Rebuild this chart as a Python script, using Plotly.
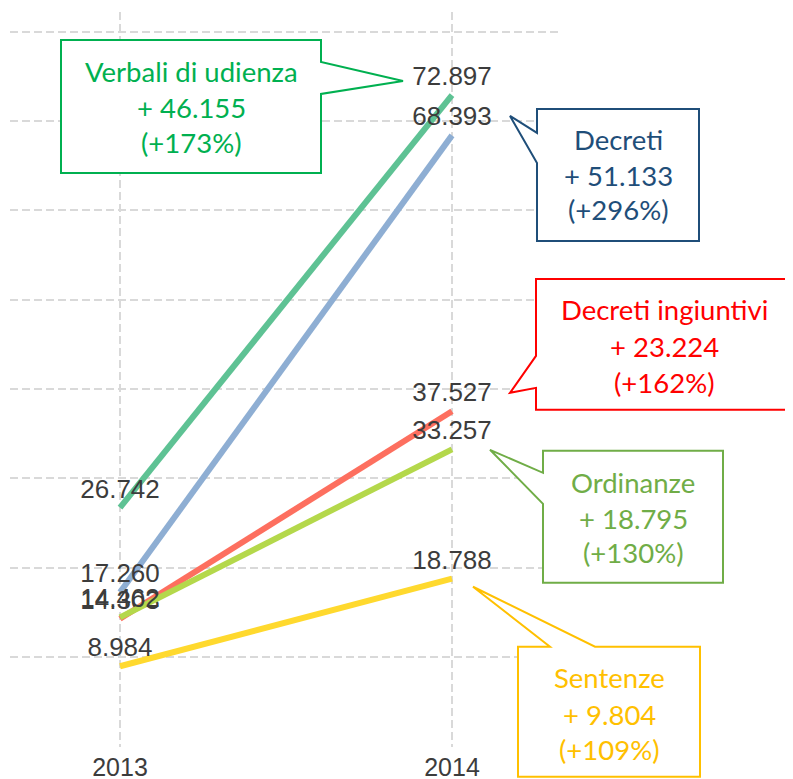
import plotly.graph_objects as go

# ---------------- data ----------------
years = [2013, 2014]
year_labels = ["2013", "2014"]
series_names = ["Verbali di udienza", "Decreti", "Decreti ingiuntivi", "Ordinanze", "Sentenze"]
verbali = [26742, 72897]
decreti = [17260, 68393]
ingiuntivi = [14303, 37527]
ordinanze = [14462, 33257]
sentenze = [8984, 18788]

line_colors = ["#5ec294", "#8eaed3", "#fd6f5f", "#b4d84b", "#ffd92e"]
box_colors = ["#00b050", "#1f4e79", "#ff0000", "#70ad47", "#ffc000"]

all_series = [verbali, decreti, ingiuntivi, ordinanze, sentenze]

# ---------------- geometry (pixels, reference coords) ----------------
OFF = 8  # default page body margin
W, H = 793 - OFF, 779 - OFF
PL, PR, PT, PB = 10, 562, 12, 747.3


def X(px):
    return (px - PL) / (PR - PL)


def Y(py):
    return (PB - py) / (PB - PT)


def it(n):
    return f"{n:,}".replace(",", ".")


fig = go.Figure()
for name, vals, col in zip(series_names, all_series, line_colors):
    fig.add_trace(go.Scatter(
        x=years, y=vals, mode="lines+markers+text", name=name,
        line=dict(color=col, width=6),
        marker=dict(size=4, color="rgba(0,0,0,0)"),
        text=[it(v) for v in vals],
        textposition="top center",
        textfont=dict(family="Liberation Sans, Arial, sans-serif", size=26, color="#3c3c3c"),
        cliponaxis=False, hoverinfo="skip",
    ))

# ---------------- callouts ----------------
callouts = [
    dict(box=(61, 40, 321, 173), kind="right", ptr=[(321, 62), (403, 81), (321, 94)],
         tx=191, ty=[72, 108, 143]),
    dict(box=(537, 109, 699, 241), kind="left", ptr=[(537, 163), (510, 116), (537, 133)],
         tx=618, ty=[140, 176, 210]),
    dict(box=(536, 279, 792, 410), kind="left", ptr=[(536, 388), (510, 393), (536, 356)],
         tx=664, ty=[310, 347, 383]),
    dict(box=(543, 451, 723, 583), kind="left", ptr=[(543, 504), (490, 450), (543, 473)],
         tx=633, ty=[483, 519, 553]),
    dict(box=(518, 647, 700, 777), kind="top", ptr=[(550, 647), (473, 587), (595, 647)],
         tx=609, ty=[678, 715, 750]),
]

shapes = []
annotations = []
for c, name, vals, col in zip(callouts, series_names, all_series, box_colors):
    L, T, R, B = c["box"]
    if c["kind"] == "right":
        pts = [(L, T), (R, T), c["ptr"][0], c["ptr"][1], c["ptr"][2], (R, B), (L, B)]
    elif c["kind"] == "left":
        pts = [(L, T), (R, T), (R, B), (L, B), c["ptr"][0], c["ptr"][1], c["ptr"][2]]
    else:
        pts = [(L, T), c["ptr"][0], c["ptr"][1], c["ptr"][2], (R, T), (R, B), (L, B)]
    path = "M " + " L ".join(f"{X(px):.5f},{Y(py):.5f}" for px, py in pts) + " Z"
    shapes.append(dict(type="path", path=path, xref="paper", yref="paper",
                       line=dict(color=col, width=2), fillcolor="white", layer="above"))
    diff = vals[1] - vals[0]
    pct = round(diff / vals[0] * 100)
    lines = [name, f"+ {it(diff)}", f"(+{pct}%)"]
    for txt, py in zip(lines, c["ty"]):
        annotations.append(dict(text=txt, x=X(c["tx"]), y=Y(py), xref="paper", yref="paper",
                                xanchor="center", yanchor="middle", showarrow=False,
                                font=dict(family="Lato, Carlito, sans-serif", size=27.5, color=col)))

grid = dict(showgrid=True, gridcolor="#d9d9d9", gridwidth=2, griddash="8px,4px",
            zeroline=False, showline=False, automargin=False)

fig.update_layout(
    width=W, height=H,
    margin=dict(l=PL - OFF, r=W - (PR - OFF), t=PT - OFF, b=H - (PB - OFF)),
    plot_bgcolor="white", paper_bgcolor="white",
    showlegend=False, hovermode=False,
    separators=",.",
    xaxis=dict(range=[2013 - 110 / 332, 2014 + 110 / 332], tickvals=years, ticktext=year_labels,
               tickfont=dict(family="Liberation Sans, Arial, sans-serif", size=25, color="#3c3c3c"),
               ticks="", ticklabelstandoff=3, **grid),
    yaxis=dict(range=[-50, 82200], tickvals=[0, 10000, 20000, 30000, 40000, 50000, 60000, 70000, 80000],
               showticklabels=False, ticks="", **grid),
    shapes=shapes,
    annotations=annotations,
)

fig.write_html("out.html")
